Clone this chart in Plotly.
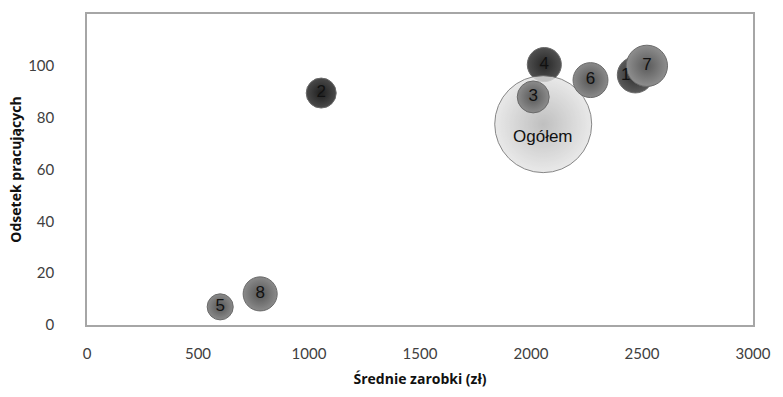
import plotly.graph_objects as go

# Grupy (kolejność rysowania: późniejsze przykrywają wcześniejsze)
grupy = ["5", "8", "2", "4", "Ogółem", "3", "6", "1", "7"]
zarobki = [600, 780, 1055, 2060, 2055, 2010, 2268, 2470, 2522]       # średnie zarobki (zł)
odsetek = [7, 12, 89.5, 100.5, 77.5, 88, 94.5, 96.5, 100]            # odsetek pracujących (%)
liczebnosc = [68, 116, 90, 116, 940, 102, 122, 130, 170]              # wielkość grupy

kolory = ["#8a8a8a", "#8a8a8a", "#4a4a4a", "#505050", "#e4e4e4",
          "#8c8c8c", "#8a8a8a", "#5a5a5a", "#8e8e8e"]
kolory_brzegu = ["#555555", "#555555", "#1e1e1e", "#262626", "#b0b0b0",
                 "#585858", "#555555", "#2c2c2c", "#5a5a5a"]
krycie = [1, 1, 1, 1, 0.8, 1, 1, 1, 1]

fig = go.Figure()

fig.add_trace(go.Scatter(
    x=zarobki, y=odsetek,
    mode="markers+text",
    text=[g if g not in ("Ogółem", "1") else "" for g in grupy],
    textposition="middle center",
    textfont=dict(family="Liberation Sans, Arial", size=17, color="#111111"),
    marker=dict(
        size=liczebnosc, sizemode="area", sizeref=0.2,
        color=kolory, opacity=krycie,
        gradient=dict(type="radial", color=kolory_brzegu),
        line=dict(color="#6a6a6a", width=1),
    ),
    hoverinfo="x+y",
    showlegend=False,
    cliponaxis=False,
))

# Podpisy przesunięte względem środka bąbla: "Ogółem" nieco w dół, "1" w lewo
podpis = dict(family="Liberation Sans, Arial", size=17, color="#111111")
i = grupy.index("Ogółem")
fig.add_annotation(x=zarobki[i], y=odsetek[i], text="Ogółem", showarrow=False,
                   yshift=-12, font=podpis)
j = grupy.index("1")
fig.add_annotation(x=zarobki[j], y=odsetek[j], text="1", showarrow=False,
                   xshift=-10, font=podpis)

osie = dict(
    showgrid=False, zeroline=False, showline=True, linecolor="#a6a6a6",
    linewidth=1.5, mirror=True, ticks="",
    tickfont=dict(family="Lato, Open Sans", size=15, color="#404040"),
)

tytul = dict(family="Open Sans", size=14, color="#111111", weight="bold")
fig.update_xaxes(
    range=[0, 3000], tickvals=[0, 500, 1000, 1500, 2000, 2500, 3000],
    ticklabelstandoff=14,
    title=dict(text="Średnie zarobki (zł)", standoff=13, font=tytul),
    **osie,
)
fig.update_yaxes(
    range=[0, 120], tickvals=[0, 20, 40, 60, 80, 100],
    ticklabelstandoff=28,
    title=dict(text="Odsetek pracujących", standoff=3, font=tytul),
    **osie,
)

fig.update_layout(
    width=783, height=397,
    margin=dict(l=87, r=19, t=12, b=68),
    paper_bgcolor="white", plot_bgcolor="white",
)

fig.write_html(
    "out.html",
    post_script="document.body.style.margin='0';document.body.style.overflow='hidden';",
)
